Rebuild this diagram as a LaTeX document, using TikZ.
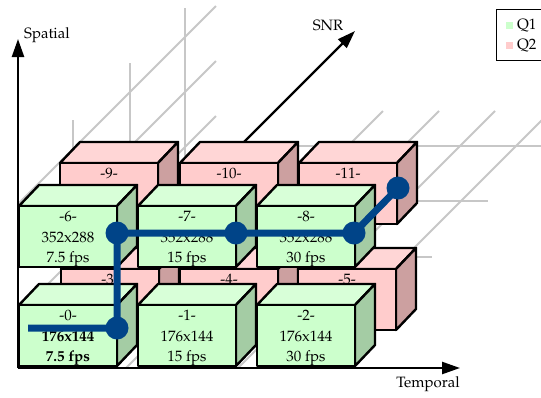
\documentclass[tikz,border=0pt]{standalone}
\usepackage[T1]{fontenc}
\usepackage{mathpazo}
\usetikzlibrary{arrows.meta}

\definecolor{qonefront}{RGB}{204,255,204}
\definecolor{qonetop}{RGB}{216,255,216}
\definecolor{qoneside}{RGB}{164,204,164}
\definecolor{qtwofront}{RGB}{255,204,204}
\definecolor{qtwotop}{RGB}{255,214,214}
\definecolor{qtwoside}{RGB}{204,160,160}
\definecolor{pathblue}{RGB}{0,68,136}

% layer box: #1 name, #2 x, #3 y (front top left), #4 colour set, #5 text
\newcommand{\layerbox}[5]{%
	\filldraw[boxline, fill=#4top] (#2,#3) -- ++(20,-21) -- ++(98,0) -- ++(-20,21) -- cycle;
	\filldraw[boxline, fill=#4side] (#2+98,#3) -- ++(20,-21) -- ++(0,61) -- ++(-20,21) -- cycle;
	\filldraw[boxline, fill=#4front] (#2,#3) rectangle ++(98,61);
	\node[boxtext] (#1) at (#2+49,#3+5) {#5};
}

\begin{document}
\begin{tikzpicture}[x=1pt,y=-1pt,
		boxline/.style={line width=2.4pt, line join=round, draw=black},
		boxtext/.style={anchor=north, inner sep=0pt, align=center, font=\fontsize{15}{20.5}\selectfont},
		gridline/.style={line width=1.8pt, draw=black!22},
		axis/.style={line width=2.4pt, -{Triangle[length=18pt,width=12pt]}},
		axislabel/.style={inner sep=0pt, font=\fontsize{15}{17}\selectfont},
		pathline/.style={line width=7pt, draw=pathblue},
		pathdot/.style={circle, fill=pathblue, minimum size=23pt, inner sep=0pt}]
	\useasboundingbox (0,0) rectangle (541,397);
	% grid on the wall
	\foreach \s in {55,112,167}
		\draw[gridline] (18+\s,368-\s) -- (18+\s,175-\s);
	\foreach \h in {204,259,314}
		\draw[gridline] (18,\h) -- (216,\h-198);
	% grid on the floor
	\foreach \s in {55,111,167,222}
		\draw[gridline] (18+\s,368-\s) -- (321+\s,368-\s);
	\foreach \t in {126,182,238,294}
		\draw[gridline] (\t,368) -- (\t+257,111);
	\coordinate (origin) at (18,368);
	\coordinate (snrtip) at (355,31);
	\draw[axis] (origin) -- (snrtip);
	% Q2 layer
	\layerbox{b9}{60}{163}{qtwo}{-9-}
	\layerbox{b10}{180}{163}{qtwo}{-10-}
	\layerbox{b11}{299}{163}{qtwo}{-11-}
	\layerbox{b3}{61}{269}{qtwo}{-3-}
	\layerbox{b4}{180}{269}{qtwo}{-4-}
	\layerbox{b5}{298}{269}{qtwo}{-5-}
	% Q1 layer
	\layerbox{b6}{19}{206}{qone}{-6-\\352x288\\7.5 fps}
	\layerbox{b7}{138}{206}{qone}{-7-\\352x288\\15 fps}
	\layerbox{b8}{257}{206}{qone}{-8-\\352x288\\30 fps}
	\layerbox{b0}{19}{305}{qone}{-0-\\\textbf{176x144}\\\textbf{7.5 fps}}
	\layerbox{b1}{138}{305}{qone}{-1-\\176x144\\15 fps}
	\layerbox{b2}{257}{305}{qone}{-2-\\176x144\\30 fps}
	% axes
	\coordinate (spatialtip) at (18,39);
	\coordinate (temporaltip) at (460,368);
	\draw[axis] (origin) -- (spatialtip);
	\draw[axis] (origin) -- (temporaltip);
	\node[axislabel, anchor=west] (spatial) at (24,35) {Spatial};
	\node[axislabel] (snr) at (328,25) {SNR};
	\node[axislabel] (temporal) at (428,384) {Temporal};
	% adaptation path
	\coordinate (start) at (28,328);
	\node[pathdot] (p0) at (117,328) {};
	\node[pathdot] (p1) at (117,233) {};
	\node[pathdot] (p2) at (236,233) {};
	\node[pathdot] (p3) at (354,233) {};
	\node[pathdot] (p4) at (398,188) {};
	\draw[pathline] (start) -- (p0.center) -- (p1.center) -- (p2.center) -- (p3.center) -- (p4.center);
	% legend
	\draw[line width=1pt] (496,9) rectangle (548,60);
	\fill[qonefront] (506,22) rectangle ++(7,7);
	\fill[qtwofront] (506,42) rectangle ++(7,7);
	\node[axislabel, anchor=west] (qone) at (517,26) {Q1};
	\node[axislabel, anchor=west] (qtwo) at (517,46) {Q2};
\end{tikzpicture}
\end{document}
